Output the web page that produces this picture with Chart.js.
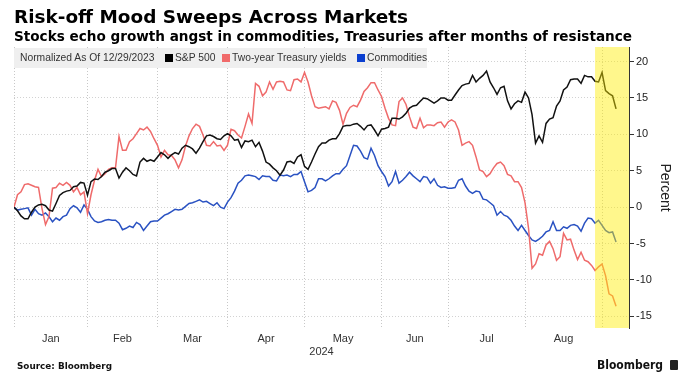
<!DOCTYPE html>
<html>
<head>
<meta charset="utf-8">
<script src="https://cdn.jsdelivr.net/npm/chart.js@4.4.1/dist/chart.umd.min.js"></script>
<style>
  html, body { margin: 0; padding: 0; background: #fff; }
  body { position: relative; width: 689px; height: 384px; overflow: hidden; font-family: "Liberation Sans", Arial, sans-serif; color: #222; }
  canvas { position: absolute; left: 0; top: 0; }
  .fit { position: absolute; white-space: nowrap; font-family: "DejaVu Sans", sans-serif; font-weight: bold; color: #000; transform-origin: 0 0; }
  #title { left: 14px; top: 7px; font-size: 18px; line-height: 20px; }
  #subtitle { left: 14px; top: 28px; font-size: 14px; line-height: 16px; }
  #source { left: 17px; top: 360px; font-size: 9px; line-height: 12px; color: #111; }
  #logo { left: 597px; top: 357px; font-size: 12px; line-height: 16px; color: #111; }
  #logoMark { position: absolute; left: 670px; top: 360px; width: 8px; height: 10px; background: #222; border-radius: 1px; }
  #legend { position: absolute; left: 14px; top: 48px; width: 413px; height: 20px; background: #efefef; font-size: 10.3px; color: #333; }
  #legend span { position: absolute; top: 0; line-height: 20px; white-space: nowrap; }
  #legend i { display: inline-block; width: 8px; height: 8px; margin-right: 2px; vertical-align: -0.5px; }
</style>
</head>
<body>
<canvas id="chart" width="689" height="384"></canvas>
<div id="title" class="fit" data-w="394">Risk-off Mood Sweeps Across Markets</div>
<div id="subtitle" class="fit" data-w="618">Stocks echo growth angst in commodities, Treasuries after months of resistance</div>
<div id="legend">
  <span style="left:6px">Normalized As Of 12/29/2023</span>
  <span style="left:151px"><i style="background:#000"></i>S&amp;P 500</span>
  <span style="left:208px"><i style="background:#f06a6a"></i>Two-year Treasury yields</span>
  <span style="left:343px"><i style="background:#0b3fd0"></i>Commodities</span>
</div>
<div id="source" class="fit" data-w="95">Source: Bloomberg</div>
<div id="logo" class="fit" data-w="66">Bloomberg</div>
<div id="logoMark"></div>
<script>
// trading sessions after the 12/29/2023 base, per month
const months = ["Jan", "Feb", "Mar", "Apr", "May", "Jun", "Jul", "Aug"];
const sessionsPerMonth = [21, 20, 20, 22, 22, 19, 22, 22];
const yearLabel = "2024";
const yTicks = [-15, -10, -5, 0, 5, 10, 15, 20];
const highlightFrom = 166; // Aug 28 session

// % change since 12/29/2023, one value per session
const spx = [
  0, -0.5, -1.2, -1.6, -1.6, -0.7, 0.0, 0.3, 0.4, 0.2,
  -0.4, -0.55, 0.5, 1.6, 2.0, 2.2, 2.3, 2.8, 2.9, 3.4,
  3.3, 1.65, 3.5, 3.85, 3.8, 4.2, 4.8, 5.0, 5.3, 5.3,
  4.0, 4.8, 5.4, 5.0, 4.5, 4.3, 6.2, 6.7, 6.3, 6.5,
  6.3, 6.9, 7.5, 7.2, 6.7, 7.2, 7.5, 7.3, 8.1, 8.5,
  8.3, 8.0, 7.4, 8.1, 9.0, 9.8, 9.9, 9.7, 9.4, 9.3,
  9.8, 10.1, 9.8, 9.2, 9.3, 8.2, 9.1, 9.0, 9.2, 8.3,
  8.9, 7.7, 6.2, 5.9, 5.4, 5.0, 4.4, 5.1, 6.2, 6.3,
  6.0, 6.9, 7.2, 5.6, 5.2, 6.2, 7.3, 8.3, 8.8, 8.8,
  9.2, 9.4, 9.4, 10.1, 11.1, 11.2, 11.2, 11.4, 11.5, 11.1,
  10.6, 11.2, 11.3, 10.6, 9.8, 10.7, 10.8, 11.0, 12.2, 12.2,
  12.1, 12.4, 12.9, 13.6, 13.9, 14.0, 14.5, 15.0, 14.9, 14.6,
  14.3, 14.6, 15.0, 15.0, 14.7, 14.7, 15.4, 16.1, 16.7, 16.9,
  17.0, 18.1, 17.2, 17.7, 18.1, 18.7, 17.2, 16.4, 15.5, 16.4,
  16.6, 14.6, 13.5, 14.2, 14.6, 14.4, 15.8, 15.0, 12.7, 8.8,
  9.8, 8.9, 11.5, 12.1, 12.3, 13.9, 14.6, 16.1, 16.5, 17.5,
  17.6, 17.6, 17.0, 18.1, 17.9, 17.9, 17.3, 17.2, 18.5, 16.0,
  15.6, 15.3, 13.5
];
const ust2y = [
  0, 1.7, 2.1, 3.1, 3.2, 3.0, 2.8, 2.7, -0.2, -2.4,
  -1.3, 2.6, 2.7, 3.3, 3.0, 3.4, 3.0, 2.1, 2.7, 1.7,
  2.1, -0.9, 1.7, 3.7, 5.2, 4.2, 4.6, 5.2, 5.4, 5.4,
  9.7, 7.8, 7.8, 9.0, 9.4, 10.1, 10.8, 10.6, 11.0, 10.4,
  9.4, 8.5, 6.9, 7.8, 7.2, 7.1, 6.5, 5.4, 6.5, 8.4,
  9.8, 10.8, 11.4, 11.1, 9.9, 8.5, 8.4, 9.0, 8.4, 8.5,
  7.8, 8.5, 10.7, 10.5, 9.9, 9.5, 11.1, 12.8, 11.5, 17.0,
  16.6, 15.3, 15.8, 17.2, 16.2, 17.2, 17.3, 17.2, 16.1, 16.0,
  17.5, 17.6, 17.2, 18.5, 17.2, 15.3, 13.8, 13.6, 13.7, 13.8,
  13.5, 14.6, 14.4, 13.3, 11.4, 12.9, 13.7, 14.0, 13.8, 14.7,
  15.9, 16.4, 17.1, 17.1, 16.1, 15.2, 13.6, 12.2, 11.3, 11.2,
  14.5, 15.0, 14.1, 12.4, 11.0, 10.8, 12.2, 10.9, 11.3, 11.3,
  11.2, 11.6, 11.7, 11.0, 11.7, 12.0, 11.7, 10.6, 8.5, 8.8,
  9.0, 8.5, 6.9, 5.1, 4.9, 4.2, 4.6, 5.4, 6.0, 6.2,
  5.7, 4.5, 4.3, 3.5, 3.5, 2.7, 0.6, -2.9, -8.4, -7.8,
  -6.4, -6.6, -5.2, -4.7, -5.7, -7.3, -6.8, -3.6, -4.5, -4.4,
  -5.9, -7.2, -6.2, -7.3, -7.5, -8.0, -8.7, -8.2, -7.8, -9.4,
  -11.9, -12.2, -13.6
];
const bcom = [
  0, -0.4, -0.3, -0.2, -0.1, -1.1, -0.3, -0.9, -1.1, -0.8,
  -1.3, -2.0, -1.5, -1.8, -1.3, -1.1, -0.2, 0.2, -0.1, -0.7,
  0.3, -0.3, -1.3, -1.9, -2.1, -2.0, -1.8, -1.7, -1.8, -1.8,
  -2.2, -3.1, -2.9, -2.6, -2.8, -2.1, -2.4, -3.2, -2.6, -2.0,
  -1.9, -1.9, -1.5, -1.1, -0.9, -0.6, -0.3, -0.4, -0.3, 0.1,
  0.5, 0.6, 0.8, 1.0, 0.7, 0.8, 0.5, 0.2, 0.6, 0.0,
  -0.2, 0.7, 1.3, 2.2, 3.3, 3.7, 4.3, 4.4, 4.3, 4.2,
  3.8, 4.3, 4.2, 4.2, 3.7, 3.6, 4.4, 4.3, 4.4, 4.2,
  4.5, 4.5, 4.9, 3.5, 2.1, 2.3, 2.7, 3.9, 3.9, 3.6,
  3.9, 4.3, 4.6, 4.6, 5.2, 5.7, 7.1, 8.5, 8.4, 7.7,
  6.8, 6.6, 8.1, 7.1, 5.7, 4.9, 4.2, 2.9, 3.5, 4.9,
  3.3, 3.7, 4.2, 4.8, 4.3, 3.9, 3.5, 4.2, 4.1, 3.3,
  3.9, 3.0, 2.7, 2.8, 2.6, 2.6, 2.7, 3.7, 3.9, 2.9,
  2.2, 1.9, 2.2, 2.1, 1.1, 1.0, 0.6, 0.2, -1.1, -0.6,
  -1.1, -1.3, -1.8, -2.6, -3.2, -2.5, -3.2, -3.9, -4.5, -4.7,
  -4.4, -4.0, -3.4, -3.2, -2.0, -3.2, -3.2, -2.7, -2.9, -2.5,
  -2.4, -2.6, -3.3, -2.2, -1.5, -1.6, -2.2, -1.8, -2.5, -3.2,
  -3.5, -3.4, -4.8
];

// month boundaries and label positions in session units
const monthEnds = [];
const monthMids = {};
let acc = 0;
sessionsPerMonth.forEach((n, i) => {
  monthMids[acc + n / 2] = months[i];
  acc += n;
  monthEnds.push(acc);
});
const gridAt = new Set([0, ...monthEnds]);

const highlight = {
  id: "highlight",
  afterDatasetsDraw(chart) {
    const { ctx, chartArea, scales } = chart;
    const left = scales.x.getPixelForValue(highlightFrom);
    ctx.save();
    ctx.fillStyle = "rgba(255, 238, 0, 0.45)";
    ctx.fillRect(left, chartArea.top, chartArea.right - left, chartArea.bottom - chartArea.top);
    ctx.restore();
  }
};

const line = (label, data, color) => ({
  label, data, borderColor: color, borderWidth: 1.5,
  pointRadius: 0, tension: 0, fill: false
});

new Chart(document.getElementById("chart"), {
  type: "line",
  data: {
    labels: spx.map((_, i) => i),
    datasets: [
      line("S&P 500", spx, "#111111"),
      line("Two-year Treasury yields", ust2y, "#ef6b6b"),
      line("Commodities", bcom, "#2a52c2")
    ]
  },
  options: {
    responsive: false,
    animation: false,
    layout: { padding: { left: 14, top: 47, right: 0, bottom: 0 } },
    plugins: { legend: { display: false }, tooltip: { enabled: false } },
    scales: {
      x: {
        type: "linear",
        min: 0,
        max: 175.7,
        afterBuildTicks: (s) => {
          s.ticks = [...gridAt, ...Object.keys(monthMids).map(Number)]
            .sort((a, b) => a - b).map((v) => ({ value: v }));
        },
        afterFit: (s) => { s.height = 56; },
        ticks: {
          autoSkip: false, maxRotation: 0, padding: 4, color: "#333",
          font: { family: "Liberation Sans", size: 11 },
          callback: (v) => monthMids[v] || ""
        },
        grid: {
          color: (c) => (c.tick && gridAt.has(c.tick.value) ? "#c8c8c8" : "rgba(0,0,0,0)"),
          drawTicks: false
        },
        border: { display: false, dash: [1, 2] },
        title: {
          display: true, text: yearLabel, color: "#333",
          font: { family: "Liberation Sans", size: 11 },
          padding: { top: 0, bottom: 25 }
        }
      },
      y: {
        position: "right",
        min: -16.6,
        max: 22,
        afterBuildTicks: (s) => { s.ticks = yTicks.map((v) => ({ value: v })); },
        afterFit: (s) => { s.width = 60; },
        ticks: { color: "#222", padding: 2, font: { family: "Liberation Sans", size: 11 } },
        grid: { color: "#d2d2d2", tickColor: "#333", tickLength: 5, tickWidth: 1 },
        border: { display: true, color: "#333", width: 1, dash: [1, 2] },
        title: {
          display: true, text: "Percent", color: "#222",
          font: { family: "Liberation Sans", size: 14 },
          padding: { top: 15.6, bottom: 0 }
        }
      }
    }
  },
  plugins: [highlight]
});

// squeeze the bold headline texts to the widths seen in the original
document.querySelectorAll(".fit").forEach((el) => {
  const w = el.getBoundingClientRect().width;
  el.style.transform = "scaleX(" + (Number(el.dataset.w) / w) + ")";
});
</script>
</body>
</html>
